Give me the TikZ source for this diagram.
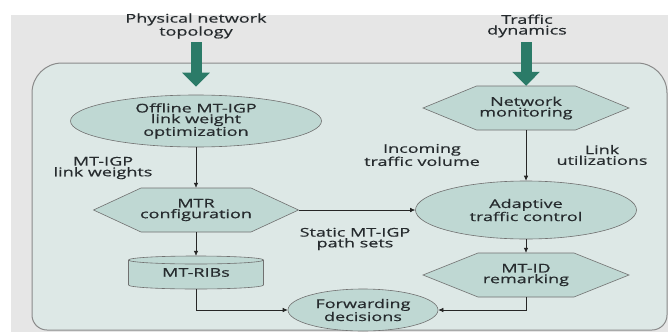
\documentclass[tikz,border=0pt]{standalone}
\usepackage{fontspec}
\setmainfont[FakeStretch=1.5,FakeBold=0.6]{Open Sans}
\usetikzlibrary{arrows.meta,shapes.geometric,calc}
\definecolor{pagebg}{HTML}{E6E6E6}
\definecolor{boxbg}{HTML}{DDE8E6}
\definecolor{nodefill}{HTML}{BFD8D3}
\definecolor{bigarrowcol}{HTML}{2B7B68}
\definecolor{edgegray}{HTML}{707070}
\definecolor{boxline}{HTML}{8A8A8A}
\definecolor{txtcol}{HTML}{262B2E}
\tikzset{
  lbl/.style={align=center, inner sep=0pt, text=txtcol},
  ell/.style={ellipse, draw=edgegray, line width=0.6pt, fill=nodefill, inner sep=0pt, align=center, text=txtcol},
  hexstyle/.style={draw=edgegray, line width=0.6pt, fill=nodefill},
  con/.style={draw=black!85, line width=0.6pt, -{Latex[length=5pt,width=4.5pt]}},
  bigarr/.style={line width=11pt, draw=bigarrowcol, -{Triangle[length=14pt,width=27pt,fill=bigarrowcol]}}
}
\newcommand\hexnode[6]{%
  \filldraw[hexstyle] (#2-#4,#3) -- (#2-#5,#3-22) -- (#2+#5,#3-22) -- (#2+#4,#3) -- (#2+#5,#3+22) -- (#2-#5,#3+22) -- cycle;
  \node[lbl, minimum width=2*#4pt, minimum height=44pt] (#1) at (#2,#3) {#6};
}
\begin{document}
\begin{tikzpicture}[x=1pt,y=-1pt,font={\fontsize{12pt}{10.7pt}\selectfont}]
\useasboundingbox (0,0) rectangle (668,332);
\fill[pagebg] (11,15) rectangle (668,332);
\path[fill=boxbg, draw=boxline, line width=1pt]
  (32,200) [rounded corners=30pt] -- (32,63) -- (667,63) -- (667,150)
  [rounded corners=15pt] -- (667,330) -- (32,330) -- cycle;

\node[lbl] (phys) at (196,26) {Physical network\\topology};
\node[lbl] (traf) at (527,26) {Traffic\\dynamics};

\node[ell, minimum width=251pt, minimum height=52pt] (off) at (196,121) {Offline MT-IGP\\link weight\\optimization};
\hexnode{net}{526}{108}{103}{49.5}{Network\\monitoring}
\hexnode{mtr}{196}{210}{102.5}{55}{MTR\\configuration}
\hexnode{mtid}{526}{275}{103}{48}{MT-ID\\remarking}
\node[ell, minimum width=221pt, minimum height=58pt] (atc) at (526,210) {Adaptive\\traffic control};
\node[ell, minimum width=150pt, minimum height=42pt] (fwd) at (363,310) {Forwarding\\decisions};

% cylinder MT-RIBs
\filldraw[hexstyle] (128.5,260) -- (128.5,285) arc[start angle=180,end angle=360,x radius=67.5pt,y radius=4pt]
  -- (263.5,260) arc[start angle=0,end angle=180,x radius=67.5pt,y radius=4pt] -- cycle;
\draw[hexstyle, fill=none] (128.5,260) arc[start angle=180,end angle=360,x radius=67.5pt,y radius=4pt];
\node[lbl, minimum width=135pt, minimum height=33pt] (ribs) at (196,272.5) {MT-RIBs};

\node[lbl] (lw) at (103,168) {MT-IGP\\link weights};
\node[lbl] (itv) at (422,155) {Incoming\\traffic volume};
\node[lbl] (lu) at (602,155) {Link\\utilizations};
\node[lbl] (sps) at (355,239) {Static MT-IGP\\path sets};

\coordinate (pa) at (196,42);
\coordinate (ta) at (526,42);
\draw[bigarr, shorten >=8pt] (pa) -- (off.north);
\draw[bigarr] (ta) -- (net.north);

\draw[con] (off.south) -- (mtr.north);
\draw[con] (mtr.south) -- (ribs.north);
\draw[con] (mtr.east) -- (atc.west);
\draw[con] (net.south) -- (atc.north);
\draw[con] (atc.south) -- (mtid.north);
\draw[con] (ribs.south) |- (fwd.west);
\draw[con] (mtid.south) |- (fwd.east);
\end{tikzpicture}
\end{document}
